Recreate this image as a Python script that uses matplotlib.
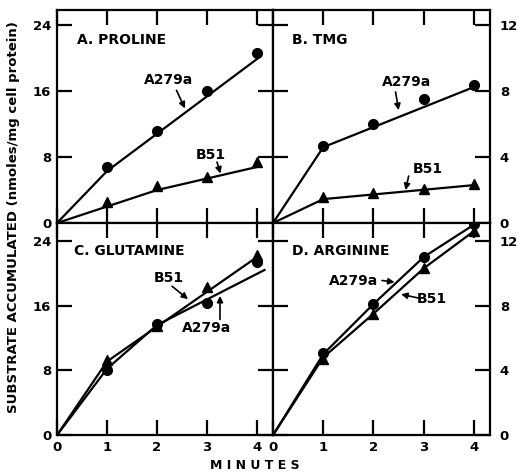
import matplotlib
matplotlib.use('Agg')
import matplotlib.pyplot as plt

plt.rcParams.update({
    'font.family': 'DejaVu Sans',
    'font.weight': 'bold',
    'axes.linewidth': 1.6,
    'xtick.direction': 'in',
    'ytick.direction': 'in',
    'xtick.major.size': 11,
    'ytick.major.size': 11,
    'xtick.major.width': 1.6,
    'ytick.major.width': 1.6,
    'xtick.labelsize': 9.5,
    'ytick.labelsize': 9.5,
})

minutes = [0, 1, 2, 3, 4]

# A. proline (left scale, 0-24)
pro_a279a_pts = [6.8, 11.2, 16.0, 20.6]
pro_b51_pts = [2.6, 4.5, 5.6, 7.4]
pro_a279a_fit_x = [0, 1, 4]
pro_a279a_fit = [0, 6.3, 19.9]
pro_b51_fit_x = [0, 2, 4]
pro_b51_fit = [0, 4.0, 6.8]

# B. TMG (right scale, 0-12)
tmg_a279a_pts = [4.7, 6.0, 7.5, 8.4]
tmg_b51_pts = [1.6, 1.8, 2.05, 2.35]
tmg_a279a_fit_x = [0, 1, 4]
tmg_a279a_fit = [0, 4.6, 8.25]
tmg_b51_fit_x = [0, 1, 4]
tmg_b51_fit = [0, 1.45, 2.3]

# C. glutamine (left scale, 0-24)
gln_a279a_pts = [8.0, 13.7, 16.3, 21.4]
gln_b51_pts = [9.3, 13.5, 18.3, 22.2]
gln_a279a_fit_x = [0, 1, 2, 4.15]
gln_a279a_fit = [0, 8.2, 13.6, 20.4]
gln_b51_fit_x = [0, 1, 2, 4]
gln_b51_fit = [0, 9.1, 13.4, 22.0]

# D. arginine (right scale, 0-12)
arg_a279a_pts = [5.05, 8.1, 11.0, 13.05]
arg_b51_pts = [4.7, 7.5, 10.35, 12.6]
arg_a279a_fit = [0, 5.0, 8.1, 11.0, 13.0]
arg_b51_fit = [0, 4.8, 7.5, 10.3, 12.6]

fig = plt.figure(figsize=(5.18, 4.72), dpi=100)

L, M, R = 0.110, 0.527, 0.946
B, H, T = 0.078, 0.5275, 0.978
axA = fig.add_axes([L, H, M - L, T - H])
axB = fig.add_axes([M, H, R - M, T - H])
axC = fig.add_axes([L, B, M - L, H - B])
axD = fig.add_axes([M, B, R - M, H - B])


def style(ax, ymax, yticks, right, bottom):
    ax.set_xlim(0, 4.32)
    ax.set_ylim(0, ymax)
    ax.set_xticks(minutes)
    ax.set_yticks(yticks)
    ax.tick_params(top=True, right=True, left=True, bottom=True,
                   labelbottom=bottom, labelleft=not right, labelright=right)
    ax.tick_params(axis='x', pad=4)
    ax.tick_params(axis='y', pad=7 if right else 4)
    for lab in ax.get_xticklabels() + ax.get_yticklabels():
        lab.set_fontweight('bold')


def plot_panel(ax, a_fx, a_fy, b_fx, b_fy, a_pts, b_pts):
    ax.plot(a_fx, a_fy, color='black', lw=1.6)
    ax.plot(b_fx, b_fy, color='black', lw=1.6)
    ax.plot(minutes[1:], a_pts, 'o', color='black', ms=7, zorder=3)
    ax.plot(minutes[1:], b_pts, '^', color='black', ms=7, zorder=3)


def arrow(ax, tail, head):
    ax.annotate('', xy=head, xytext=tail,
                arrowprops=dict(arrowstyle='-|>', color='black', lw=1.2,
                                mutation_scale=9, shrinkA=0, shrinkB=0))


fs = 10

plot_panel(axA, pro_a279a_fit_x, pro_a279a_fit, pro_b51_fit_x, pro_b51_fit,
           pro_a279a_pts, pro_b51_pts)
style(axA, 25.8, [0, 8, 16, 24], False, False)
axA.text(0.4, 22.2, 'A. PROLINE', fontsize=fs, fontweight='bold', va='center')
axA.text(2.24, 17.3, 'A279a', fontsize=fs, fontweight='bold', ha='center', va='center')
arrow(axA, (2.39, 16.1), (2.56, 13.9))
axA.text(3.08, 8.3, 'B51', fontsize=fs, fontweight='bold', ha='center', va='center')
arrow(axA, (3.2, 7.4), (3.27, 6.0))

plot_panel(axB, tmg_a279a_fit_x, tmg_a279a_fit, tmg_b51_fit_x, tmg_b51_fit,
           tmg_a279a_pts, tmg_b51_pts)
style(axB, 12.9, [0, 4, 8, 12], True, False)
axB.text(0.38, 11.1, 'B. TMG', fontsize=fs, fontweight='bold', va='center')
axB.text(2.66, 8.55, 'A279a', fontsize=fs, fontweight='bold', ha='center', va='center')
arrow(axB, (2.44, 7.95), (2.5, 6.85))
axB.text(3.08, 3.3, 'B51', fontsize=fs, fontweight='bold', ha='center', va='center')
arrow(axB, (2.7, 2.85), (2.64, 2.0))

plot_panel(axC, gln_a279a_fit_x, gln_a279a_fit, gln_b51_fit_x, gln_b51_fit,
           gln_a279a_pts, gln_b51_pts)
style(axC, 26.2, [0, 8, 16, 24], False, True)
axC.text(0.34, 22.7, 'C. GLUTAMINE', fontsize=fs, fontweight='bold', va='center')
axC.text(2.23, 19.4, 'B51', fontsize=fs, fontweight='bold', ha='center', va='center')
arrow(axC, (2.3, 18.4), (2.62, 16.8))
axC.text(2.99, 13.2, 'A279a', fontsize=fs, fontweight='bold', ha='center', va='center')
arrow(axC, (3.26, 14.3), (3.26, 17.2))

plot_panel(axD, minutes, arg_a279a_fit, minutes, arg_b51_fit,
           arg_a279a_pts, arg_b51_pts)
style(axD, 13.1, [0, 4, 8, 12], True, True)
axD.text(0.38, 11.35, 'D. ARGININE', fontsize=fs, fontweight='bold', va='center')
axD.text(1.61, 9.55, 'A279a', fontsize=fs, fontweight='bold', ha='center', va='center')
arrow(axD, (2.17, 9.55), (2.42, 9.45))
axD.text(3.16, 8.4, 'B51', fontsize=fs, fontweight='bold', ha='center', va='center')
arrow(axD, (2.92, 8.45), (2.55, 8.7))

fig.text(0.027, 0.54, 'SUBSTRATE ACCUMULATED (nmoles/mg cell protein)',
         rotation=90, ha='center', va='center', fontsize=9.5, fontweight='bold')
fig.text(0.492, 0.013, 'M I N U T E S', ha='center', va='center',
         fontsize=9, fontweight='bold')

fig.savefig('out.png', dpi=100)
